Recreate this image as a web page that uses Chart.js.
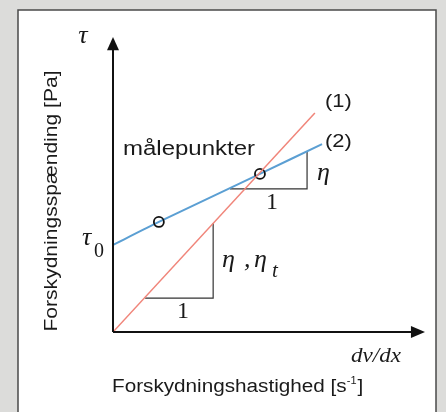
<!DOCTYPE html>
<html>
<head>
<meta charset="utf-8">
<script src="https://cdn.jsdelivr.net/npm/chart.js"></script>
<style>
  html, body { margin: 0; padding: 0; background: #dcdcda; }
  #wrap { width: 446px; height: 412px; position: relative; }
</style>
</head>
<body>
<div id="wrap"><canvas id="c" width="446" height="412"></canvas></div>
<script>
// curve (1): straight line through origin
const line1X = [0, 64.7];
const line1Y = [0, 74.2];
// curve (2): starts at tau0, measured points at index 1 and 2
const line2X = [0, 14.7, 47.1, 67.0];
const line2Y = [29.5, 37.3, 53.6, 63.7];
const measuredIdx = [1, 2];
// slope triangles
const tri1X = [10.3, 32.1, 32.1];
const tri1Y = [11.5, 11.5, 36.9];
const tri2X = [37.5, 62.2, 62.2];
const tri2Y = [48.5, 48.5, 61.0];

const toPts = (xs, ys) => xs.map((x, i) => ({ x: x, y: ys[i] }));

// text slightly stretched sideways like the scanned figure
function txt(c, s, x, y, font, align, sx) {
  sx = sx || 1.15;
  c.save();
  c.font = font;
  c.textAlign = align || 'left';
  c.translate(x, y);
  c.scale(sx, 1);
  c.fillText(s, 0, 0);
  const w = c.measureText(s).width * sx;
  c.restore();
  return w;
}

// background panel, axes with arrows and all the labels
const decor = {
  id: 'decor',
  beforeDraw(chart) {
    const c = chart.ctx;
    c.save();
    c.fillStyle = '#dcdcda';
    c.fillRect(0, 0, chart.width, chart.height);
    c.fillStyle = '#ffffff';
    c.fillRect(18, 10, 418, 410);
    c.strokeStyle = '#4a4a4a';
    c.lineWidth = 1.5;
    c.strokeRect(18, 10, 418, 410);
    c.restore();
  },
  afterDatasetsDraw(chart) {
    const c = chart.ctx;
    const xs = chart.scales.x, ys = chart.scales.y;
    const X = v => xs.getPixelForValue(v);
    const Y = v => ys.getPixelForValue(v);
    c.save();
    c.strokeStyle = '#111';
    c.fillStyle = '#111';
    c.lineWidth = 2;
    // y axis
    c.beginPath();
    c.moveTo(X(0), Y(0));
    c.lineTo(X(0), Y(96));
    c.stroke();
    c.beginPath();
    c.moveTo(X(0), Y(100));
    c.lineTo(X(0) - 6, Y(95.5));
    c.lineTo(X(0) + 6, Y(95.5));
    c.closePath();
    c.fill();
    // x axis
    c.beginPath();
    c.moveTo(X(0), Y(0));
    c.lineTo(X(96), Y(0));
    c.stroke();
    c.beginPath();
    c.moveTo(X(100), Y(0));
    c.lineTo(X(95.5), Y(0) - 6);
    c.lineTo(X(95.5), Y(0) + 6);
    c.closePath();
    c.fill();

    c.fillStyle = '#1a1a1a';
    c.textBaseline = 'middle';
    const greek = 'italic 26px "Liberation Serif", "DejaVu Serif", serif';
    const serif = '24px "Liberation Serif", "DejaVu Serif", serif';
    const sans = '"Liberation Sans", Arial, sans-serif';

    txt(c, 'τ', 83, 36, greek, 'center', 1);

    // tau0
    txt(c, 'τ', 82, 238, greek, 'left', 1);
    txt(c, '0', 94, 252, '20px "Liberation Serif", serif', 'left', 1);

    // eta, eta_t
    txt(c, 'η', 222, 260, greek, 'left', 1);
    txt(c, ',', 244, 260, greek, 'left', 1);
    txt(c, 'η', 254, 260, greek, 'left', 1);
    txt(c, 't', 272, 271, 'italic 21px "Liberation Serif", serif', 'left', 1);

    txt(c, 'η', 317, 173, greek, 'left', 1);

    txt(c, '1', 272, 203, serif, 'center', 1);
    txt(c, '1', 183, 312, serif, 'center', 1);

    txt(c, 'dv/dx', 401, 356, 'italic 22px "Liberation Serif", serif', 'right', 1.05);

    txt(c, 'målepunkter', 123, 149, '20px ' + sans, 'left', 1.2);
    txt(c, '(1)', 325, 102, '19px ' + sans, 'left', 1.15);
    txt(c, '(2)', 325, 142, '19px ' + sans, 'left', 1.15);

    const f = '18px ' + sans;
    let w = txt(c, 'Forskydningshastighed [s', 112, 387, f, 'left', 1.15);
    const w2 = txt(c, '-1', 112 + w, 381, '11px ' + sans, 'left', 1.0);
    txt(c, ']', 112 + w + w2 + 1, 387, f, 'left', 1.15);

    c.save();
    c.translate(52, 201);
    c.rotate(-Math.PI / 2);
    txt(c, 'Forskydningsspænding [Pa]', 0, 0, f, 'center', 1.17);
    c.restore();
    c.restore();
  }
};

new Chart(document.getElementById('c'), {
  type: 'scatter',
  data: {
    datasets: [
      {
        label: '(1)',
        data: toPts(line1X, line1Y),
        showLine: true,
        borderColor: '#f0857a',
        borderWidth: 1.5,
        pointRadius: 0
      },
      {
        label: '(2)',
        data: toPts(line2X, line2Y),
        showLine: true,
        borderColor: '#5b9fd3',
        borderWidth: 2,
        tension: 0.2,
        pointRadius: line2X.map((_, i) => measuredIdx.includes(i) ? 5 : 0),
        pointBorderColor: '#111',
        pointBorderWidth: 1.8,
        pointBackgroundColor: 'rgba(255,255,255,0)'
      },
      {
        label: 'tri1',
        data: toPts(tri1X, tri1Y),
        showLine: true,
        borderColor: '#333',
        borderWidth: 1.2,
        pointRadius: 0
      },
      {
        label: 'tri2',
        data: toPts(tri2X, tri2Y),
        showLine: true,
        borderColor: '#333',
        borderWidth: 1.2,
        pointRadius: 0
      }
    ]
  },
  options: {
    responsive: false,
    animation: false,
    layout: { padding: { left: 113, right: 21, top: 37, bottom: 80 } },
    plugins: { legend: { display: false }, tooltip: { enabled: false } },
    scales: {
      x: { type: 'linear', min: 0, max: 100, display: false },
      y: { type: 'linear', min: 0, max: 100, display: false }
    }
  },
  plugins: [decor]
});
</script>
</body>
</html>
